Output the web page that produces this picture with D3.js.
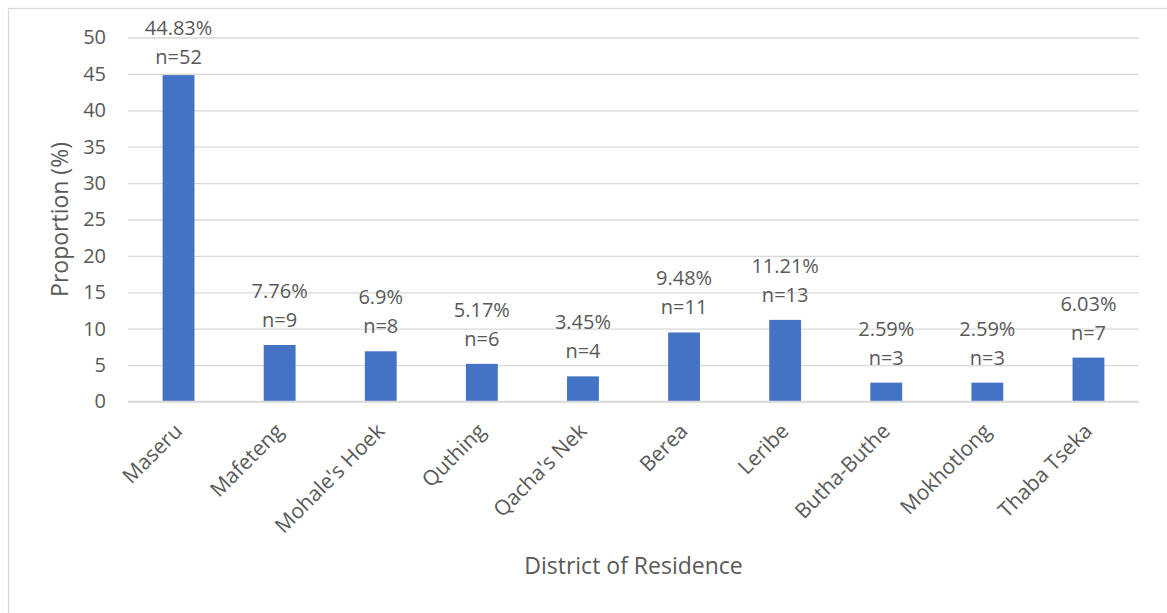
<!DOCTYPE html>
<html>
<head>
<meta charset="utf-8">
<script src="https://cdn.jsdelivr.net/npm/d3@7"></script>
<style>
  html, body { margin: 0; padding: 0; background: #fff; }
  svg { display: block; }
  text { font-family: "Open Sans", "Noto Sans", sans-serif; fill: #595959; }
</style>
</head>
<body>
<svg id="chart" width="1167" height="613"></svg>
<script>
const categories = ["Maseru", "Mafeteng", "Mohale's Hoek", "Quthing", "Qacha's Nek", "Berea", "Leribe", "Butha-Buthe", "Mokhotlong", "Thaba Tseka"];
const percentValues = [44.83, 7.76, 6.9, 5.17, 3.45, 9.48, 11.21, 2.59, 2.59, 6.03];
const counts = [52, 9, 8, 6, 4, 11, 13, 3, 3, 7];
const yTicks = [0, 5, 10, 15, 20, 25, 30, 35, 40, 45, 50];
const yTitle = "Proportion (%)";
const xTitle = "District of Residence";

const svg = d3.select("#chart");
const plot = { left: 128, right: 1139, top: 37.5, bottom: 401.5 };

// chart border
svg.append("rect")
  .attr("x", 8.5).attr("y", 8.5)
  .attr("width", 1300).attr("height", 800)
  .attr("fill", "none").attr("stroke", "#d9d9d9").attr("stroke-width", 1.3);

const x = d3.scaleBand().domain(categories).range([plot.left, plot.right]).paddingInner(0.685).paddingOuter(0.3425);
const y = d3.scaleLinear().domain([0, 50]).range([plot.bottom, plot.top]);

// grid
const yAxis = d3.axisLeft(y).tickValues(yTicks).tickSize(-(plot.right - plot.left)).tickPadding(22);
const gy = svg.append("g").attr("transform", `translate(${plot.left},0)`).call(yAxis);
gy.select(".domain").remove();
gy.selectAll(".tick line").attr("stroke", "#d9d9d9").attr("stroke-width", 1.3);
gy.selectAll(".tick text").attr("font-size", 20).attr("fill", "#595959")
  .style("font-family", "'Open Sans', 'Noto Sans', sans-serif");

// bars
svg.append("g").selectAll("rect").data(categories).join("rect")
  .attr("x", d => x(d))
  .attr("width", x.bandwidth())
  .attr("y", (d, i) => y(percentValues[i]))
  .attr("height", (d, i) => y(0) - y(percentValues[i]))
  .attr("fill", "#4472C4");

// baseline
svg.append("line").attr("x1", plot.left).attr("x2", plot.right)
  .attr("y1", y(0)).attr("y2", y(0)).attr("stroke", "#d9d9d9").attr("stroke-width", 1.3);

// data labels
const labels = svg.append("g");
categories.forEach((c, i) => {
  const cx = x(c) + x.bandwidth() / 2;
  const top = y(percentValues[i]);
  const b1 = Math.max(top - 47, 35);
  labels.append("text").attr("x", cx).attr("y", b1).attr("text-anchor", "middle")
    .attr("font-size", 20).text(percentValues[i] + "%");
  labels.append("text").attr("x", cx).attr("y", b1 + 29).attr("text-anchor", "middle")
    .attr("font-size", 20).text("n=" + counts[i]);
});

// x category labels
svg.append("g").selectAll("text").data(categories).join("text")
  .attr("transform", d => `translate(${x(d) + x.bandwidth() / 2 + 5},${plot.bottom + 31}) rotate(-45)`)
  .attr("text-anchor", "end")
  .attr("font-size", 21)
  .text(d => d);

// axis titles
svg.append("text")
  .attr("transform", `translate(68,${(plot.top + plot.bottom) / 2}) rotate(-90)`)
  .attr("text-anchor", "middle").attr("font-size", 23).text(yTitle);
svg.append("text")
  .attr("x", (plot.left + plot.right) / 2).attr("y", 574)
  .attr("text-anchor", "middle").attr("font-size", 23).text(xTitle);
</script>
</body>
</html>
